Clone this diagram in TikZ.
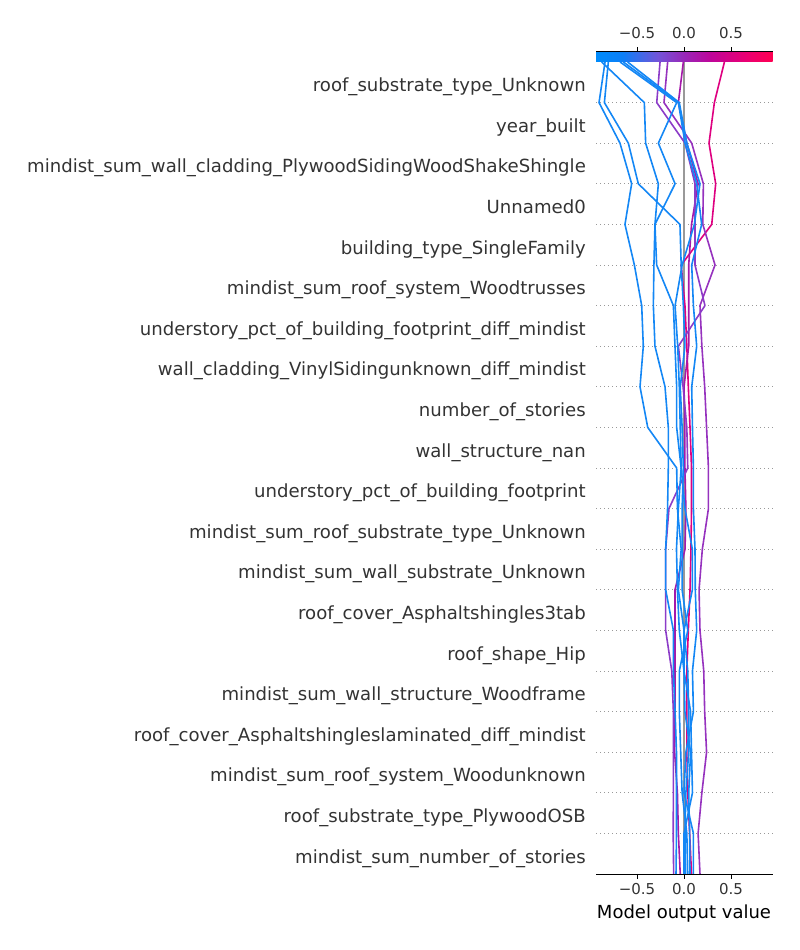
\documentclass[tikz,border=0pt]{standalone}
\usepackage{fontspec}
\setmainfont{DejaVu Sans}
\definecolor{labelgray}{RGB}{51,51,51}
\definecolor{basegray}{RGB}{153,153,153}
\definecolor{shapblue}{RGB}{20,135,245}
\definecolor{shapviolet}{RGB}{140,60,200}
\definecolor{shappurple}{RGB}{150,50,190}
\definecolor{shapplum}{RGB}{165,25,170}
\definecolor{shappink}{RGB}{222,0,128}
\pgfdeclarehorizontalshading{shapbar}{100bp}{rgb(0bp)=(0,0.545,0.984); rgb(25bp)=(0,0.545,0.984); rgb(32.5bp)=(0.05,0.5,0.97); rgb(42.5bp)=(0.45,0.33,0.85); rgb(50bp)=(0.6,0.15,0.72); rgb(57.5bp)=(0.75,0.02,0.6); rgb(67.5bp)=(0.92,0,0.45); rgb(75bp)=(1,0,0.318); rgb(100bp)=(1,0,0.318)}

\begin{document}
\begin{tikzpicture}[x=1pt,y=1pt,
  feat/.style={anchor=east,text=labelgray,inner sep=0pt,font=\fontsize{18.1}{20}\selectfont,text height=0.72em,text depth=0.22em},
  tick/.style={text=labelgray,inner sep=0pt,font=\fontsize{15}{17}\selectfont,text height=0.73em,text depth=0pt},
  gridline/.style={basegray,dash pattern=on 1pt off 3pt,line width=0.8pt},
  trace/.style={line width=1.6pt,line join=round}]
\useasboundingbox (0,0) rectangle (800,950);
\begin{scope}[shift={(684,76)},x=94pt,y=40.6pt]
% feature grid
\foreach \k in {1,...,19}
  \draw[gridline] (-0.936,\k) -- (0.944,\k);
\foreach \name [count=\i] in {roof\_substrate\_type\_Unknown, year\_built,
  mindist\_sum\_wall\_cladding\_PlywoodSidingWoodShakeShingle, Unnamed0,
  building\_type\_SingleFamily, mindist\_sum\_roof\_system\_Woodtrusses,
  understory\_pct\_of\_building\_footprint\_diff\_mindist,
  wall\_cladding\_VinylSidingunknown\_diff\_mindist, number\_of\_stories,
  wall\_structure\_nan, understory\_pct\_of\_building\_footprint,
  mindist\_sum\_roof\_substrate\_type\_Unknown, mindist\_sum\_wall\_substrate\_Unknown,
  roof\_cover\_Asphaltshingles3tab, roof\_shape\_Hip,
  mindist\_sum\_wall\_structure\_Woodframe,
  roof\_cover\_Asphaltshingleslaminated\_diff\_mindist,
  mindist\_sum\_roof\_system\_Woodunknown, roof\_substrate\_type\_PlywoodOSB,
  mindist\_sum\_number\_of\_stories}
  \node[feat] at (-1.043,{20.33-\i}) {\name};
% base value
\draw[basegray,line width=2.6pt] (0,0) -- (0,20);
% decision paths
\draw[trace,shappink] (0.08,0) -- (0.06,1) -- (0.04,2) -- (0.03,3) -- (0.03,4) -- (0.03,5) -- (0.046,6) -- (0.064,7) -- (0.074,8) -- (0.08,9) -- (0.08,10) -- (0.064,11) -- (0.046,12) -- (0.03,13) -- (0.01,14) -- (-0.03,15) -- (0.295,16) -- (0.337,17) -- (0.266,18) -- (0.323,19) -- (0.43,20);
\draw[trace,shapplum] (-0.04,0) -- (-0.06,1) -- (-0.07,2) -- (-0.1,3) -- (-0.096,4) -- (-0.096,5) -- (-0.096,6) -- (-0.096,7) -- (0.011,8) -- (0.02,9) -- (0.01,10) -- (0.01,11) -- (0,12) -- (0.05,13) -- (0.05,14) -- (0.05,15) -- (0.08,16) -- (0.15,17) -- (0.03,18) -- (-0.06,19) -- (-0.007,20);
\draw[trace,shappurple] (0.17,0) -- (0.15,1) -- (0.19,2) -- (0.24,3) -- (0.22,4) -- (0.21,5) -- (0.17,6) -- (0.16,7) -- (0.195,8) -- (0.26,9) -- (0.26,10) -- (0.24,11) -- (0.22,12) -- (0.19,13) -- (0.17,14) -- (0.33,15) -- (0.2,16) -- (0.206,17) -- (0.082,18) -- (-0.213,19) -- (-0.174,20);
\draw[trace,shapviolet] (-0.11,0) -- (-0.115,1) -- (-0.113,2) -- (-0.113,3) -- (-0.113,4) -- (-0.13,5) -- (-0.195,6) -- (-0.195,7) -- (-0.195,8) -- (-0.16,9) -- (0.04,10) -- (0.03,11) -- (-0.01,12) -- (-0.06,13) -- (0.223,14) -- (0.117,15) -- (0.117,16) -- (0.117,17) -- (0.011,18) -- (-0.29,19) -- (-0.255,20);
\draw[trace,shapblue] (0.017,0) -- (0.01,1) -- (0.02,2) -- (0.05,3) -- (0.05,4) -- (0.04,5) -- (0,6) -- (-0.06,7) -- (-0.03,8) -- (-0.07,9) -- (-0.078,10) -- (-0.386,11) -- (-0.468,12) -- (-0.433,13) -- (-0.45,14) -- (-0.528,15) -- (-0.628,16) -- (-0.557,17) -- (-0.681,18) -- (-0.904,19) -- (-0.84,20);
\draw[trace,shapblue] (0.04,0) -- (0.03,1) -- (-0.02,2) -- (-0.035,3) -- (-0.05,4) -- (-0.05,5) -- (0.04,6) -- (-0.02,7) -- (-0.018,8) -- (-0.02,9) -- (-0.007,10) -- (-0.02,11) -- (-0.04,12) -- (0.01,13) -- (-0.007,14) -- (-0.03,15) -- (-0.043,16) -- (-0.486,17) -- (-0.592,18) -- (-0.847,19) -- (-0.805,20);
\draw[trace,shapblue] (0.064,0) -- (0.06,1) -- (0.05,2) -- (0.07,3) -- (0.01,4) -- (0,5) -- (0,6) -- (0.089,7) -- (0.089,8) -- (0.01,9) -- (-0.03,10) -- (-0.078,11) -- (-0.078,12) -- (-0.096,13) -- (-0.113,14) -- (-0.291,15) -- (-0.309,16) -- (-0.273,17) -- (-0.408,18) -- (-0.422,19) -- (-0.876,20);
\draw[trace,shapblue] (-0.085,0) -- (-0.08,1) -- (-0.08,2) -- (-0.08,3) -- (-0.095,4) -- (-0.113,5) -- (-0.113,6) -- (-0.195,7) -- (-0.195,8) -- (-0.175,9) -- (-0.167,10) -- (-0.167,11) -- (-0.202,12) -- (-0.309,13) -- (-0.326,14) -- (-0.32,15) -- (-0.309,16) -- (-0.095,17) -- (-0.273,18) -- (-0.078,19) -- (-0.68,20);
\draw[trace,shapblue] (0.1,0) -- (0.1,1) -- (0,2) -- (0.02,3) -- (0.1,4) -- (0.09,5) -- (0.135,6) -- (0.12,7) -- (0.117,8) -- (0.1,9) -- (0.1,10) -- (0.09,11) -- (0.082,12) -- (0.135,13) -- (0.1,14) -- (0.082,15) -- (0.188,16) -- (0.135,17) -- (0.011,18) -- (-0.06,19) -- (-0.645,20);
\draw[trace,shapblue] (0,0) -- (0,1) -- (0.09,2) -- (0.08,3) -- (0.07,4) -- (0,5) -- (-0.05,6) -- (-0.07,7) -- (-0.08,8) -- (-0.06,9) -- (-0.03,10) -- (-0.04,11) -- (-0.05,12) -- (-0.067,13) -- (-0.095,14) -- (-0.02,15) -- (0.11,16) -- (0.17,17) -- (0.03,18) -- (-0.05,19) -- (-0.6,20);
% colour bar and axes
\shade[shading=shapbar] (-0.936,20) rectangle (0.944,20.25);
\draw[line width=0.8pt] (-0.936,20.25) -- (0.944,20.25);
\draw[line width=0.8pt] (-0.936,0) -- (0.944,0);
\foreach \v/\txt in {-0.5/−0.5, 0/0.0, 0.5/0.5} {
  \draw[line width=0.8pt] (\v,20.25) -- ++(0,5pt);
  \draw[line width=0.8pt] (\v,0) -- ++(0,-5pt);
  \node[tick] at (\v,20.665) {\txt};
  \node[tick] at (\v,-0.406) {\txt};
}
\node[inner sep=0pt,font=\fontsize{18}{20}\selectfont,text height=0.73em,text depth=0pt] at (0,-1.0) {Model output value};
\end{scope}
\end{tikzpicture}
\end{document}
